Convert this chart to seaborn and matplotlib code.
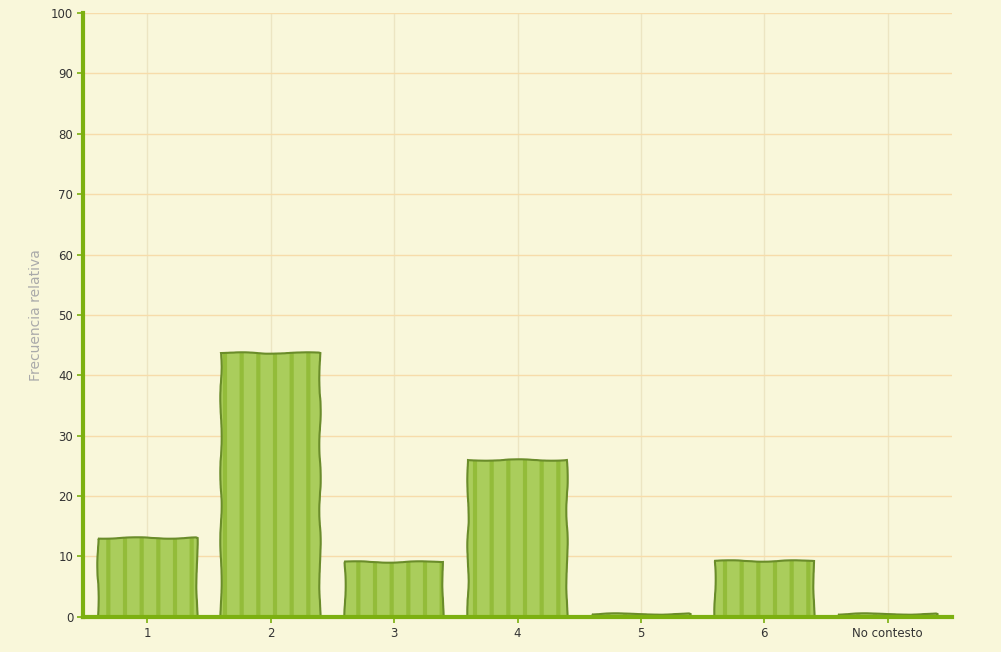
import pandas as pd
import numpy as np
import matplotlib.pyplot as plt
import matplotlib.patches as mpatches
import seaborn as sns

# Data
categories = ['1', '2', '3', '4', '5', '6', 'No contesto']
frecuencia = [13.1, 43.7, 9.0, 25.9, 0.4, 9.2, 0.4]
y_ticks = list(range(0, 101, 10))

bg = '#f9f7da'
hgrid_col = '#f7dcaa'
vgrid_col = '#ece5c2'
axis_green = '#7cb010'
bar_fill = '#aacd5c'
hatch_col = '#93bc3a'
bar_edge = '#6a8c2a'

sns.set_theme(style="white")
plt.rcParams['font.family'] = ['DejaVu Sans']
plt.rcParams['hatch.linewidth'] = 3.0

df = pd.DataFrame({'categoria': categories, 'frecuencia': frecuencia})

fig = plt.figure(figsize=(10.01, 6.52), dpi=100, facecolor=bg)
ax = fig.add_axes([0.083, 0.054, 0.868, 0.926])
ax.set_facecolor(bg)

sns.barplot(data=df, x='categoria', y='frecuencia', color=bar_fill, width=0.8,
            edgecolor=hatch_col, linewidth=0, saturation=1, ax=ax, zorder=3)

# hand-drawn look: hatched fill plus a slightly wobbly outline on top
for p in list(ax.patches):
    p.set_hatch('|')
    outline = mpatches.Rectangle(p.get_xy(), p.get_width(), p.get_height(),
                                 fill=False, edgecolor=bar_edge, linewidth=1.5, zorder=4)
    outline.set_sketch_params(scale=0.7, length=90, randomness=3)
    ax.add_patch(outline)

ax.set_ylim(0, 100)
ax.set_xlim(-0.52, len(categories) - 0.48)
ax.set_yticks(y_ticks)
ax.yaxis.grid(True, color=hgrid_col, linewidth=1.0, zorder=0)
ax.xaxis.grid(True, color=vgrid_col, linewidth=1.0, zorder=0)
ax.set_axisbelow(True)

for side in ['top', 'right']:
    ax.spines[side].set_visible(False)
ax.spines['left'].set_color(axis_green)
ax.spines['left'].set_linewidth(3)
ax.spines['bottom'].set_color(axis_green)
ax.spines['bottom'].set_linewidth(3)
ax.spines['bottom'].set_zorder(5)

ax.tick_params(axis='both', length=4, width=1.2, color=axis_green,
               labelsize=8.5, labelcolor='#333333', pad=3, bottom=True, left=True)
ax.set_xlabel('')
ax.set_ylabel('Frecuencia relativa', color='#aaaaaa', fontsize=10, labelpad=6)

fig.savefig('out.png', dpi=100, facecolor=bg)
